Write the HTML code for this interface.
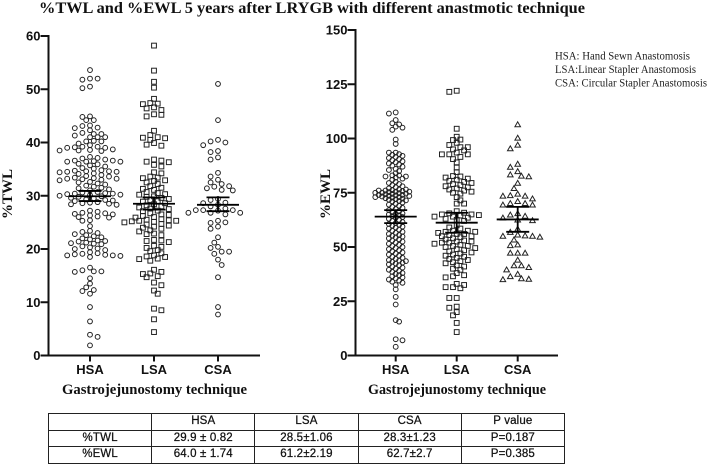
<!DOCTYPE html>
<html>
<head>
<meta charset="utf-8">
<style>
html,body{margin:0;padding:0;background:#fff;}
#page{position:relative;width:708px;height:465px;overflow:hidden;background:#fff;}
svg{position:absolute;left:0;top:0;}
#stats-table{position:absolute;left:48px;top:413px;width:517px;height:50px;border-collapse:collapse;table-layout:fixed;font-family:"Liberation Sans",sans-serif;font-size:11.5px;letter-spacing:0.15px;color:#111;-webkit-text-stroke:0.25px #111;}
#stats-table td{border:1px solid #222;text-align:center;padding:0;height:15.6px;line-height:15px;}
</style>
</head>
<body>
<div id="page">
<svg id="chart" width="708" height="465" viewBox="0 0 708 465" xmlns="http://www.w3.org/2000/svg">
  <text x="39" y="13" font-family="Liberation Serif,serif" font-weight="bold" font-size="15.5" textLength="546" lengthAdjust="spacingAndGlyphs" fill="#111">%TWL and %EWL 5 years after LRYGB with different anastmotic technique</text>
  <g font-family="Liberation Serif,serif" font-size="11.5" fill="#222">
    <text x="555" y="59.5" textLength="135" lengthAdjust="spacingAndGlyphs">HSA: Hand Sewn Anastomosis</text>
    <text x="555" y="73" textLength="141" lengthAdjust="spacingAndGlyphs">LSA:Linear Stapler Anastomosis</text>
    <text x="555" y="86.5" textLength="152" lengthAdjust="spacingAndGlyphs">CSA: Circular Stapler Anastomosis</text>
  </g>
</svg>
<table id="stats-table">
  <tr><td></td><td>HSA</td><td>LSA</td><td>CSA</td><td>P value</td></tr>
  <tr><td>%TWL</td><td>29.9 ± 0.82</td><td>28.5±1.06</td><td>28.3±1.23</td><td>P=0.187</td></tr>
  <tr><td>%EWL</td><td>64.0 ± 1.74</td><td>61.2±2.19</td><td>62.7±2.7</td><td>P=0.385</td></tr>
</table>
</div>
<script>
var categories = ['HSA', 'LSA', 'CSA'];
var twlTicks = [0, 10, 20, 30, 40, 50, 60];
var ewlTicks = [0, 25, 50, 75, 100, 125, 150];

var twlHsa = [53.6,52,51.8,52,50.2,50.5,44.8,44.9,44.2,44.2,43.2,43.1,42.7,42.8,42.3,41.6,41.6,41.3,41.8,41,41,41,40.2,40.3,40.2,39.8,39.5,39.2,39,39.1,39,39.2,38.6,38.4,38.5,38.7,38.5,37.3,37.1,37,36.8,36.6,36.6,36.4,36.5,36.4,36.4,36,35.9,35.7,35.5,35.2,35.1,34.8,34.7,34.6,34.6,34.5,34.4,34.5,34.2,34.1,33.9,33.7,33.6,33.4,33.3,33.2,33.2,33.1,33,32.9,32.6,32.5,32.3,32.1,31.9,31.7,31.5,31.4,31.2,31,30.7,30.6,30.5,30.4,30.4,30.3,30.2,30.1,30,29.9,29.8,29.6,29.5,29.3,29.2,29.1,29,28.8,28.7,28.6,28.5,28.4,28.3,27.2,27,26.8,26.7,26.6,26.5,26.3,26.1,26,25.9,25.4,25.3,24.3,23.4,23.2,23,22.8,22.6,22.4,22.2,22,21.8,21.6,21.5,21.4,21.2,21.1,21,20.9,20.5,20.3,20.1,20,19.8,19.4,19.2,19.1,19,18.9,18.8,18.8,18.7,18.5,16.5,16,15.8,15.8,15.7,14.5,13.5,12.8,12.3,12.1,11.6,9.1,6.4,3.9,3.5,1.9];
var twlLsa = [58.2,53.5,51.4,50.3,48.2,47.4,47.3,47.2,46.6,46.4,46.1,45.3,45.2,44.9,42.2,41.4,41,40.9,40.8,40.5,39.9,39.6,39.4,36.8,36.6,36.4,36.3,35.8,35.5,34.4,34.2,33.6,33.4,33.3,32.9,32.8,32.5,32.2,31.8,31.5,31.3,31.1,30.7,30.5,30.3,30.2,29.9,29.8,29.6,29.4,29.2,29,28.9,28.6,28.4,28.2,28,27.8,27.6,27.5,27.2,27.1,26.7,26.5,26.4,26.2,26,25.9,25.6,25.5,25.4,25.3,25.3,25.2,25.1,25,24.7,24.6,24.4,24.2,24,23.8,23.5,23.3,22.9,22.8,22.6,21.7,21.6,21.5,21.3,20.6,20.4,20.2,19.8,19.6,19.2,18.8,18.6,18.5,18.2,18.1,17.8,16.1,15.7,15.4,15.3,14.9,14.7,13.7,13.2,12.2,11.6,8.8,8.5,6.8,4.4];
var twlCsa = [51,44.2,40.5,40.2,40,39.5,38.4,38.2,37.2,36.8,34.3,33.6,33,32.5,32.2,31.8,31.7,31.4,31.1,31,29.4,29.2,28.7,28.6,28.3,28,27.6,27.3,27.3,27.3,27.2,26.8,26.8,26.8,26.5,25.3,25,24.9,24.2,23.8,22.2,21.2,20.4,20.2,19.5,19.5,19.1,18,17,14.7,9.1,7.7];

var ewlHsa = [112,111.5,108.5,107,106.5,105.5,105,104,99.5,97.5,93.5,93.5,92.8,92.5,92,91.5,91,90.5,90,89.5,89,88.5,88,87.5,87,86,85.5,85,84,83,83,82.5,82.5,82,81.5,81,80,79.5,79,78.5,78,77.5,77,76.5,76.5,76.2,76,76,75.8,75.5,75.5,75.3,75,75,74.8,74.6,74.5,74.3,74,74,73.8,73.6,73.5,73.3,73,73,72.8,72.5,72.3,72,71.8,71.5,71.2,71,70.5,70,69.5,69,68.5,68,67.5,67,66.5,66,65.5,65.2,65,64.6,64.2,63.8,63.5,63,62.5,62,61.5,61,60.6,60.2,59.8,59.4,59,58.5,58,57.5,57,56.5,56,55.5,55.2,54.8,54.4,54,53.5,53,52.5,52,51.5,51,50.5,50,49.5,49,48.5,48,47.5,47,46.5,46,45.5,45,44.5,44,43.7,43.5,43.2,42.8,42.4,42,41.6,41,40.5,40,39.5,39,38.5,38,37.6,37,36.5,36,35.5,35,34.5,34,33.5,32.5,30.5,27,23.5,16.3,15.6,7.5,7,4];
var ewlLsa = [122,121.5,104.5,100.8,99.5,99.3,98,97,96,96,95,94.5,93.5,92.7,92.7,92.7,91.5,90.5,89,86.6,84.5,82.7,82.5,82,81.5,81,80.5,80,79.5,79,78.5,78,77.5,77,76.5,76,75.5,75,74.6,73,71.5,70,70,66.5,65.8,65.5,65,65,64.7,64.5,64,64,63.5,63,62.5,62,60,59,58.5,57.5,57.5,57,57,56.5,56,56,55.5,55,55,54.5,54,53.5,53,52.5,52.5,52,52,51.5,51,50.5,50.5,50,49.5,49,48.5,48,47.5,47,46.5,46,45.5,45,44.5,44,43.5,43,42.5,41.5,41,40,39.5,38,37,36.5,36,33,32.5,31.5,31.5,31,26.5,26.5,22.5,22,20,18.5,15,10.8];
var ewlCsa = [106.4,100.2,97,95.3,88.2,86.8,84.8,83.3,82.7,82.4,79.4,77,74.4,73.7,73.5,73.5,72.2,71,70.1,70.1,69.4,69.4,65.4,64.8,64.2,63.4,62.5,62.2,58.3,56.8,55.6,55.2,55,55,54.6,53.3,51,50.7,47.2,47.2,47.2,44,41.4,41.4,40.6,39.5,37.5,36.4,35.4,35.2,35];

var twlMeans = [29.9, 28.5, 28.3];
var twlUpper = [30.9, 29.7, 29.7];
var twlLower = [29.0, 27.4, 27.1];
var ewlMeans = [64.0, 61.2, 62.7];
var ewlUpper = [67.0, 65.8, 68.5];
var ewlLower = [61.0, 56.6, 57.0];

var NS = 'http://www.w3.org/2000/svg';
var svg = document.getElementById('chart');
var INK = '#111';

function node(tag, parent, attrs) {
  var el = document.createElementNS(NS, tag);
  for (var k in attrs) { el.setAttribute(k, attrs[k]); }
  parent.appendChild(el);
  return el;
}
function scaleLinear(d0, d1, r0, r1) {
  return function (v) { return r0 + (v - d0) * (r1 - r0) / (d1 - d0); };
}

function swarm(values, yFn, centre, minDist, step) {
  var sorted = values.slice().sort(function (a, b) { return b - a; });
  var placed = [];
  var flip = 1;
  sorted.forEach(function (v) {
    var y = yFn(v), x = centre;
    for (var n = 0; n < 60; n++) {
      var k = Math.ceil(n / 2) * (n % 2 ? flip : -flip);
      var cx = centre + k * step;
      var ok = placed.every(function (p) {
        var dx = p.x - cx, dy = p.y - y;
        return dx * dx + dy * dy >= minDist * minDist;
      });
      if (ok) { x = cx; break; }
    }
    flip = -flip;
    placed.push({ x: x, y: y });
  });
  return placed;
}

function drawMarker(g, shape, p) {
  var el;
  if (shape === 'circle') {
    el = node('circle', g, { cx: p.x, cy: p.y, r: 2.4 });
  } else if (shape === 'square') {
    el = node('rect', g, { x: p.x - 2.4, y: p.y - 2.4, width: 4.8, height: 4.8 });
  } else {
    el = node('polygon', g, { points: (p.x) + ',' + (p.y - 2.8) + ' ' + (p.x + 2.8) + ',' + (p.y + 2.1) + ' ' + (p.x - 2.8) + ',' + (p.y + 2.1) });
  }
  
  
}

function drawPanel(cfg) {
  var y = scaleLinear(cfg.ticks[0], cfg.ticks[cfg.ticks.length - 1], cfg.bottom, cfg.top);
  var catX = function (i) { return cfg.firstX + i * cfg.stepX; };

  var panel = node('g', svg, {});
  
  

  var yAxis = node('g', panel, { stroke: INK, 'stroke-width': 2, fill: 'none' });
  
  
  node('line', yAxis, { x1: cfg.axisX, x2: cfg.axisX, y1: cfg.top - 1, y2: cfg.bottom + 1 });

  var xAxis = node('g', panel, { stroke: INK, 'stroke-width': 2, fill: 'none' });
  
  
  node('line', xAxis, { x1: cfg.axisX, x2: cfg.axisEnd, y1: cfg.bottom, y2: cfg.bottom });

  cfg.ticks.forEach(function (t) {
    node('line', yAxis, { x1: cfg.axisX - 8, x2: cfg.axisX, y1: y(t), y2: y(t) });
    var lab = node('text', panel, { x: cfg.axisX - 8, y: y(t) + 4.7, 'text-anchor': 'end', 'font-family': 'Liberation Sans,sans-serif', 'font-weight': 'bold', 'font-size': 13, fill: INK });
    
    
    lab.textContent = t;
  });

  var yTitle = node('text', panel, { transform: 'translate(' + cfg.yTitleX + ',194) rotate(-90)', 'text-anchor': 'middle', 'font-family': 'Liberation Serif,serif', 'font-weight': 'bold', 'font-size': 15, fill: INK });
  
  
  yTitle.textContent = cfg.yTitle;

  var xTitle = node('text', panel, { x: cfg.xTitleX, y: 394, textLength: cfg.xTitleW, lengthAdjust: 'spacingAndGlyphs', 'font-family': 'Liberation Serif,serif', 'font-weight': 'bold', 'font-size': 14.5, fill: INK });
  
  
  xTitle.textContent = 'Gastrojejunostomy technique';

  categories.forEach(function (c, i) {
    var cx = catX(i);
    node('line', xAxis, { x1: cx, x2: cx, y1: cfg.bottom, y2: cfg.bottom + 6 });
    var lab = node('text', panel, { x: cx, y: 374, 'text-anchor': 'middle', 'font-family': 'Liberation Sans,sans-serif', 'font-weight': 'bold', 'font-size': 13, fill: INK });
    
    
    lab.textContent = c;

    var pts = node('g', panel, { fill: 'none', stroke: '#222', 'stroke-width': 1 });
    
    
    swarm(cfg.series[i], y, cx, cfg.minDist[i], cfg.colStep[i]).forEach(function (p) {
      drawMarker(pts, cfg.shapes[i], p);
    });

    var stats = node('g', panel, { stroke: '#000', 'stroke-width': 1.8, fill: 'none' });
    
    
    node('line', stats, { x1: cx - 21, x2: cx + 21, y1: y(cfg.means[i]), y2: y(cfg.means[i]) });
    node('line', stats, { x1: cx, x2: cx, y1: y(cfg.upper[i]), y2: y(cfg.lower[i]) });
    node('line', stats, { x1: cx - 11.5, x2: cx + 11.5, y1: y(cfg.upper[i]), y2: y(cfg.upper[i]) });
    node('line', stats, { x1: cx - 11.5, x2: cx + 11.5, y1: y(cfg.lower[i]), y2: y(cfg.lower[i]) });
  });
}

drawPanel({
  name: 'twl-panel', ticks: twlTicks, top: 36, bottom: 355.5, axisX: 48.5, axisEnd: 260,
  firstX: 90, stepX: 64, yTitle: '%TWL', yTitleX: 12, xTitleX: 62, xTitleW: 185,
  series: [twlHsa, twlLsa, twlCsa], shapes: ['circle', 'square', 'circle'],
  means: twlMeans, upper: twlUpper, lower: twlLower,
  minDist: [4.7, 4.6, 5.6], colStep: [3.8, 3.7, 3.7]
});
drawPanel({
  name: 'ewl-panel', ticks: ewlTicks, top: 30, bottom: 355.5, axisX: 355.5, axisEnd: 558,
  firstX: 395.7, stepX: 61, yTitle: '%EWL', yTitleX: 330, xTitleX: 368, xTitleW: 178,
  series: [ewlHsa, ewlLsa, ewlCsa], shapes: ['circle', 'square', 'triangle'],
  means: ewlMeans, upper: ewlUpper, lower: ewlLower,
  minDist: [3.6, 4.5, 5.8], colStep: [3.4, 3.7, 3.7]
});
</script>
</body>
</html>
